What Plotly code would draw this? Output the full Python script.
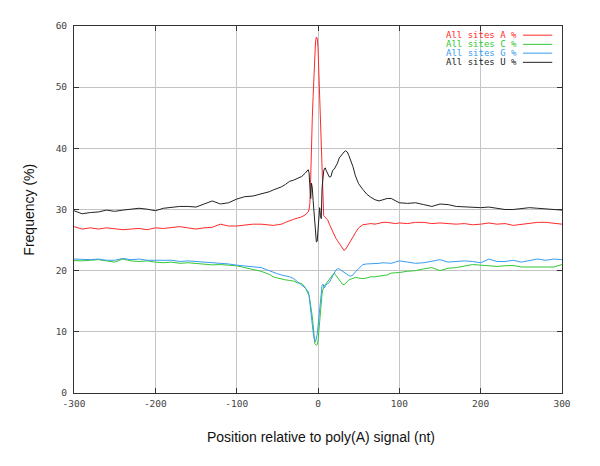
import plotly.graph_objects as go

# Positions relative to poly(A) signal (nt)
positions = [
    -300, -290, -280, -270, -260, -250, -240, -230, -220, -210, -200, -190, -180,
    -170, -160, -150, -140, -130, -120, -110, -100, -90, -80, -70, -60,
    -55, -50, -45, -40, -35, -30, -25, -20, -16, -14, -12,
    -11, -10, -9, -8, -7, -6, -5, -4, -3, -2, -1, 0, 1, 2, 3, 4, 5, 6, 7, 8, 9, 10,
    12, 14, 16, 18, 20, 22, 24, 26, 28, 30, 32, 34, 36, 38, 40, 43, 46, 50, 55, 60,
    65, 70, 75, 80, 85, 90, 95,
    100, 110, 120, 130, 140, 150, 160, 170, 180, 190, 200, 210, 220, 230, 240, 250,
    260, 270, 280, 290, 300,
]

freq_A = [
    27.2, 26.8, 27.0, 26.8, 27.0, 26.9, 26.7, 26.8, 26.9, 26.7, 27.0, 26.9, 27.0,
    27.2, 27.0, 26.8, 27.0, 27.1, 27.6, 27.3, 27.3, 27.5, 27.6, 27.6, 27.5,
    27.4, 27.5, 27.6, 27.9, 28.2, 28.4, 28.6, 28.8, 29.1, 29.3, 29.6,
    30.0, 31.0, 35.0, 41.5, 45.0, 48.5, 52.5, 56.0, 57.5, 58.2, 58.0, 56.5, 52.0, 47.5, 46.0, 42.0, 34.0, 30.0, 29.0, 28.8, 28.7, 28.6,
    28.3, 27.6, 27.0, 26.5, 25.9, 25.3, 24.9, 24.5, 24.1, 23.6, 23.3, 23.5, 23.9, 24.4, 24.9, 25.5, 26.2, 27.0, 27.5, 27.6,
    27.7, 27.6, 27.8, 27.9, 27.9, 27.8, 27.7,
    27.8, 27.7, 27.9, 27.9, 27.7, 27.8, 27.7, 27.6, 27.7, 27.5, 27.6, 27.8, 27.6, 27.7, 27.4, 27.6,
    27.7, 27.9, 27.9, 27.7, 27.6,
]

freq_C = [
    21.65, 21.6, 21.7, 21.8, 21.6, 21.4, 21.9, 21.6, 21.5, 21.6, 21.4, 21.3, 21.4,
    21.2, 21.3, 21.2, 21.0, 20.95, 21.0, 20.9, 20.8, 20.5, 20.2, 19.9, 19.4,
    19.0, 18.8, 18.6, 18.5, 18.4, 18.3, 18.0, 17.9, 17.3, 16.8, 16.2,
    15.9, 15.2, 14.5, 13.5, 12.5, 11.2, 9.5, 8.1, 7.9, 7.8, 7.9, 8.5, 10.0, 12.0, 14.0, 15.5, 16.2, 16.9, 17.4, 17.6, 17.7, 17.9,
    18.3, 18.7, 19.0, 19.3, 19.6, 19.2, 18.8, 18.5, 18.1, 17.8, 17.7, 17.9, 18.2, 18.5, 18.6, 18.8, 18.9, 18.8, 18.7, 18.8,
    19.0, 19.0, 19.1, 19.2, 19.3, 19.6, 19.6,
    19.7, 19.9, 20.0, 20.3, 20.5, 20.0, 20.4, 20.5, 20.8, 21.0, 20.9, 20.8, 20.7, 20.8, 20.85, 20.6,
    20.6, 20.6, 20.5, 20.6, 21.0,
]

freq_G = [
    21.9, 21.8, 21.8, 21.9, 21.7, 21.7, 22.0, 21.8, 21.9, 21.7, 21.7, 21.6, 21.7,
    21.5, 21.6, 21.5, 21.4, 21.4, 21.3, 21.1, 20.9, 20.8, 20.7, 20.5, 20.0,
    19.7, 19.5, 19.3, 19.2, 19.0, 18.7, 18.2, 17.7, 17.2, 16.9, 16.6,
    16.0, 14.6, 13.8, 13.0, 11.5, 10.0, 9.0, 8.65, 8.4, 9.0, 9.6, 10.9, 12.5, 14.1, 15.8, 16.8, 17.6, 17.8, 17.3, 17.2, 17.4, 17.7,
    17.9, 18.1, 18.6, 19.2, 19.7, 20.1, 20.3, 20.3, 20.1, 19.9, 19.8, 19.6, 19.4, 19.2, 19.1, 19.3, 19.8, 20.4, 21.0, 21.1,
    21.1, 21.2, 21.2, 21.3, 21.3, 21.2, 21.4,
    21.6, 21.4, 21.2, 21.3, 21.6, 21.8, 21.4, 21.5, 21.6, 21.5, 21.3, 21.9, 21.5, 21.5, 21.7, 21.4,
    21.6, 21.9, 21.7, 21.9, 21.8,
]

freq_U = [
    29.8, 29.3, 29.5, 29.6, 29.9, 29.7, 29.9, 30.05, 30.2, 30.05, 29.8, 30.2, 30.4,
    30.5, 30.5, 30.4, 30.9, 31.4, 30.9, 31.1, 31.7, 32.1, 32.2, 32.5, 32.9,
    33.2, 33.4, 33.7, 34.1, 34.6, 34.8, 35.1, 35.4, 35.9, 36.2, 36.5,
    36.0, 33.0, 31.8, 34.3, 33.5, 31.5, 29.5, 27.5, 26.0, 24.7, 24.8, 26.3, 27.5, 30.3, 29.0, 28.5, 33.5, 35.8, 36.3, 36.7, 36.8, 36.4,
    35.7, 35.3, 35.4, 36.4, 36.6, 37.0, 37.6, 38.4, 38.8, 39.1, 39.4, 39.6, 39.4, 38.8, 38.2, 37.0, 35.5, 34.2, 33.3, 32.5,
    32.0, 31.6, 31.4, 31.6, 31.8, 31.8, 31.5,
    31.1, 31.0, 31.1, 30.8, 30.5, 30.9, 30.8, 30.5, 30.4, 30.3, 30.3, 30.4, 30.2, 30.0, 30.0, 30.2,
    30.3, 30.2, 30.1, 30.0, 29.9,
]

series_names = ["All sites A %", "All sites C %", "All sites G %", "All sites U %"]
series_values = [freq_A, freq_C, freq_G, freq_U]
series_colors = ["#ff2a2a", "#33c833", "#3a9cf2", "#222222"]

x_ticks = [-300, -200, -100, 0, 100, 200, 300]
y_ticks = [0, 10, 20, 30, 40, 50, 60]

fig = go.Figure()
for name, vals, col in zip(series_names, series_values, series_colors):
    fig.add_trace(go.Scatter(x=positions, y=vals, mode="lines", name=name,
                             line=dict(color=col, width=1), showlegend=False))

mono = "DejaVu Sans Mono, Liberation Mono, monospace"

# gnuplot-style key: text right-aligned, line sample to the right
row_y = [0.975, 0.950, 0.926, 0.901]
for name, col, yy in zip(series_names, series_colors, row_y):
    fig.add_annotation(x=0.909, y=yy, xref="paper", yref="paper", text=name,
                       showarrow=False, xanchor="right", yanchor="middle",
                       borderpad=0,
                       font=dict(family=mono, size=9, color=col))
    fig.add_shape(type="line", xref="paper", yref="paper", x0=0.920, x1=0.980,
                  y0=yy, y1=yy, line=dict(color=col, width=1))

fig.add_annotation(x=0.506, y=-0.119, xref="paper", yref="paper",
                   text="Position relative to poly(A) signal (nt)", showarrow=False,
                   xanchor="center", yanchor="middle",
                   font=dict(family="Liberation Sans, Arial, sans-serif", size=14, color="#111"))
fig.add_annotation(x=-0.094, y=0.5, xref="paper", yref="paper",
                   text="Frequency (%)", showarrow=False, textangle=-90,
                   xanchor="center", yanchor="middle",
                   font=dict(family="Liberation Sans, Arial, sans-serif", size=14, color="#111"))

axis_common = dict(showgrid=True, gridcolor="#c4c4c4", gridwidth=1, zeroline=False,
                   showline=True, linecolor="#333333", linewidth=1, mirror="ticks",
                   ticks="inside", ticklen=5, tickcolor="#333333",
                   tickfont=dict(family=mono, size=9.5, color="#444444"))

# the page body has an 8px default margin, so margins are shifted to compensate
fig.update_layout(
    width=600, height=466,
    margin=dict(l=66, r=46, t=16, b=81),
    paper_bgcolor="white", plot_bgcolor="white",
    xaxis=dict(range=[-300, 300], tickvals=x_ticks, ticktext=[str(v) for v in x_ticks],
               ticklabelstandoff=2, **axis_common),
    yaxis=dict(range=[0, 60], tickvals=y_ticks, ticktext=[str(v) for v in y_ticks],
               ticklabelstandoff=4, **axis_common),
)

fig.write_html("out.html")
